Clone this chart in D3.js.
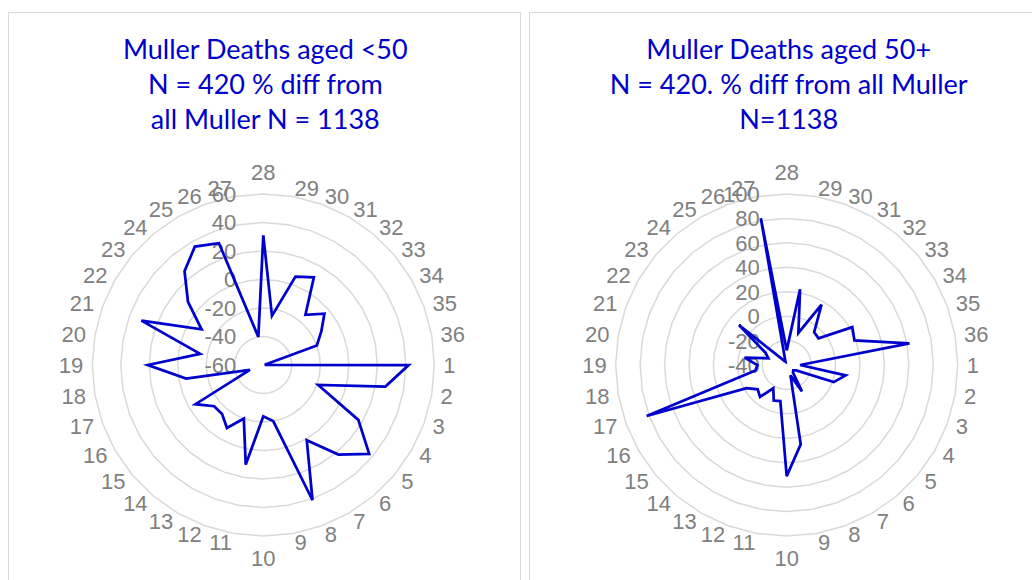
<!DOCTYPE html>
<html>
<head>
<meta charset="utf-8">
<script src="https://cdn.jsdelivr.net/npm/d3@7"></script>
<style>
  body { margin: 0; background: #fff; }
</style>
</head>
<body>
<div id="chart"></div>
<script>
// categories run clockwise from the top, the way the sheet had them
const categories = [28, 29, 30, 31, 32, 33, 34, 35, 36, 1, 2, 3, 4, 5, 6, 7, 8, 9, 10,
  11, 12, 13, 14, 15, 16, 17, 18, 19, 20, 21, 22, 23, 24, 25, 26, 27];

// % diff, deaths aged <50
const youngValues = [31, -25, 6, 11, -14, -4, -13, -20, -59, 42, 27, -19, 17, 37, 22, 1, 41, -20, -24,
  11, -20, -9, -15, -15, -5, -50, -5, 21, -15, 31, -10, 9, 26, 36, 31, -40];

// % diff, deaths aged 50+
const olderValues = [-28, 23, -12, 17, -5, -6, 22, 19, 62, -29, 9, 1, -31, -33, -32, -15, -31, 26, 51,
  -10, -9, -18, -6, -9, -2, 82, -14, -16, -5, -24, -20, 11, -33, -36, -37, 82];

const youngTicks = [-60, -40, -20, 0, 20, 40, 60];
const olderTicks = [-40, -20, 0, 20, 40, 60, 80, 100];

const youngTitle = ["Muller Deaths aged <50", "N = 420 % diff from", "all Muller N = 1138"];
const olderTitle = ["Muller Deaths aged 50+", "N = 420. % diff from all Muller", "N=1138"];

const width = 1032, height = 580;
const R = 171;
const lineColor = "#0000cc";
const labelColor = "#808080";
const labelSize = 22;
const labelFont = "'Liberation Sans', Arial, sans-serif";

const svg = d3.select("#chart").append("svg")
  .attr("width", width)
  .attr("height", height);

svg.append("rect").attr("width", width).attr("height", height).attr("fill", "#fff");

function drawRadar(panelX, panelW, cx, cy, values, ticks, titleLines) {
  // panel frame
  svg.append("rect")
    .attr("x", panelX + 0.5).attr("y", 12.5)
    .attr("width", panelW).attr("height", 600)
    .attr("fill", "none")
    .attr("stroke", "#d9d9d9")
    .attr("stroke-width", 1);

  const g = svg.append("g").attr("transform", `translate(${cx},${cy})`);

  const angle = d3.scalePoint()
    .domain(categories)
    .range([0, 2 * Math.PI * (categories.length - 1) / categories.length]);

  const r = d3.scaleLinear()
    .domain(d3.extent(ticks))
    .range([0, R]);

  // gridline rings (36-sided, like the spreadsheet draws them)
  ticks.slice(1).forEach(t => {
    g.append("path")
      .attr("d", d3.lineRadial()
        .angle(d => angle(d))
        .radius(() => r(t))
        .curve(d3.curveLinearClosed)(categories))
      .attr("fill", "none")
      .attr("stroke", "#d9d9d9")
      .attr("stroke-width", 1.5);
  });

  // category labels round the outside: top/bottom ones sit centred,
  // the rest hang off the ring at left or right, centred on the spoke
  const gap = 9;
  const boxH = labelSize * 1.2;
  categories.forEach(c => {
    const a = angle(c);
    const s = Math.sin(a), co = Math.cos(a);
    const px = (R + gap) * s, py = -(R + gap) * co;
    const t = g.append("text")
      .attr("font-family", labelFont)
      .attr("font-size", labelSize)
      .attr("fill", labelColor)
      .text(c);
    if (Math.abs(s) < 1e-6) {
      t.attr("text-anchor", "middle")
        .attr("x", px)
        .attr("y", py - co * boxH / 2 + labelSize * 0.358);
    } else {
      t.attr("text-anchor", s > 0 ? "start" : "end")
        .attr("x", px)
        .attr("y", py + labelSize * 0.358);
    }
  });

  // value axis labels
  g.selectAll(".tick")
    .data(ticks)
    .join("text")
    .attr("x", -27)
    .attr("y", d => -r(d))
    .attr("dy", "0.36em")
    .attr("text-anchor", "end")
    .attr("font-family", labelFont)
    .attr("font-size", labelSize)
    .attr("fill", labelColor)
    .text(d => d);

  // the series
  const line = d3.lineRadial()
    .angle((d, i) => angle(categories[i]))
    .radius(d => r(d))
    .curve(d3.curveLinearClosed);

  g.append("path")
    .attr("d", line(values))
    .attr("fill", "none")
    .attr("stroke", lineColor)
    .attr("stroke-width", 2.75)
    .attr("stroke-linejoin", "miter");

  // title
  svg.append("text")
    .attr("x", cx + 2)
    .attr("y", 59)
    .attr("text-anchor", "middle")
    .attr("font-family", "Lato, 'Open Sans', sans-serif")
    .attr("font-size", 27)
    .attr("fill", lineColor)
    .selectAll("tspan")
    .data(titleLines)
    .join("tspan")
    .attr("x", cx + 2)
    .attr("dy", (d, i) => i === 0 ? 0 : 35)
    .text(d => d);
}

drawRadar(8, 512, 263.3, 365, youngValues, youngTicks, youngTitle);
drawRadar(529, 512, 786.7, 365, olderValues, olderTicks, olderTitle);
</script>
</body>
</html>
